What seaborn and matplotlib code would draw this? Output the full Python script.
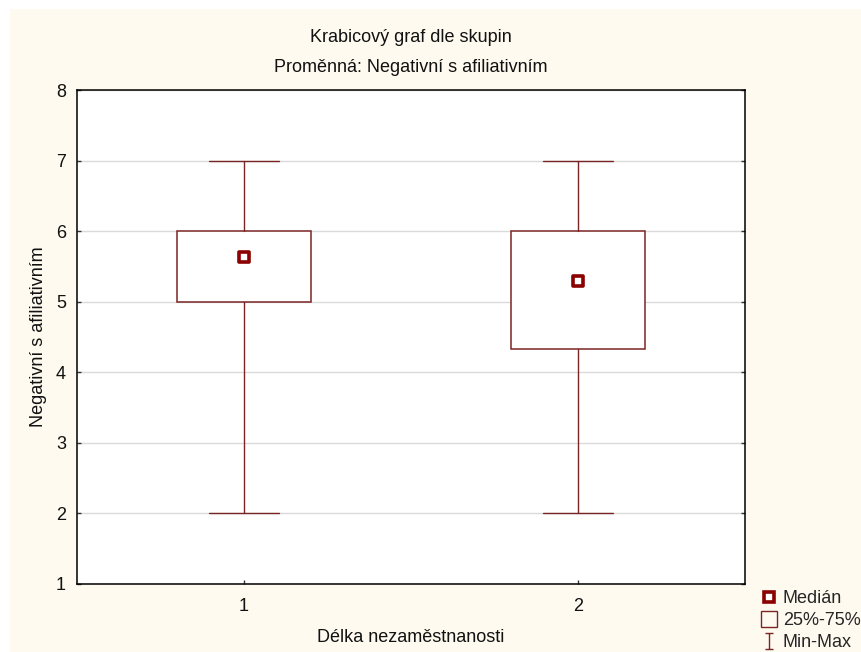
import matplotlib
matplotlib.use('Agg')
import matplotlib.pyplot as plt
import seaborn as sns
from matplotlib.path import Path
from matplotlib.lines import Line2D
from matplotlib.patches import Rectangle

# values
groups = ['1', '2']
positions = [1, 2]
q1 = [5.0, 4.33]
q3 = [6.0, 6.0]
medians = [5.63, 5.29]
mins = [2.0, 2.0]
maxs = [7.0, 7.0]

y_ticks = [1, 2, 3, 4, 5, 6, 7, 8]

title_1 = 'Krabicový graf dle skupin'
title_2 = 'Proměnná: Negativní s afiliativním'
x_label = 'Délka nezaměstnanosti'
y_label = 'Negativní s afiliativním'

box_col = '#7a2424'
mark_col = '#8b0000'
bg_col = '#fefaef'
txt_col = '#111111'
fs = 13

sns.set_theme(style='white')
plt.rcParams['font.family'] = ['Liberation Sans', 'DejaVu Sans']

fig = plt.figure(figsize=(8.61, 6.52), dpi=100)
fig.patch.set_facecolor('white')
fig.patches.append(Rectangle((10 / 861, 0), 1, 1 - 9 / 652, transform=fig.transFigure,
                             facecolor=bg_col, edgecolor='none', zorder=-10))

ax = fig.add_axes([77 / 861, 1 - 584 / 652, (745 - 77) / 861, (584 - 90) / 652])
ax.set_facecolor('white')

stats = []
for g, lo, a, m, b, hi in zip(groups, mins, q1, medians, q3, maxs):
    stats.append({'label': g, 'whislo': lo, 'q1': a, 'med': m, 'q3': b, 'whishi': hi})

ax.bxp(stats, positions=positions, widths=0.4, capwidths=0.21, showfliers=False,
       patch_artist=True,
       boxprops=dict(facecolor='white', edgecolor=box_col, linewidth=1.1),
       whiskerprops=dict(color=box_col, linewidth=1.0),
       capprops=dict(color=box_col, linewidth=1.0),
       medianprops=dict(linewidth=0), zorder=3)

sns.scatterplot(x=positions, y=medians, ax=ax, marker='s', s=55,
                facecolor='white', edgecolor=mark_col, linewidth=2.6, zorder=5)

ax.set_xlim(0.5, 2.5)
ax.set_ylim(1, 8)
ax.set_yticks(y_ticks)
ax.set_xticks(positions)
ax.set_xticklabels(groups)
ax.yaxis.grid(True, color='#dadada', linewidth=1.0, zorder=0)
ax.set_axisbelow(True)
ax.tick_params(axis='both', direction='in', length=3, width=1, color='#333333',
               labelsize=fs, labelcolor=txt_col)
ax.tick_params(axis='y', right=True, left=True, pad=8)
ax.tick_params(axis='x', bottom=True, pad=10)
for s in ax.spines.values():
    s.set_color('black')
    s.set_linewidth(1.1)
    s.set_visible(True)

ax.set_xlabel('')
ax.set_ylabel(y_label, fontsize=fs, color=txt_col, labelpad=6)
fig.text(411 / 861, 1 - 637 / 652, x_label, ha='center', va='center', fontsize=fs, color=txt_col)

fig.text(411 / 861, 1 - 38 / 652, title_1, ha='center', va='center', fontsize=fs, color=txt_col)
fig.text(411 / 861, 1 - 67 / 652, title_2, ha='center', va='center', fontsize=fs, color=txt_col)

# legend with Statistica-like symbols
ibeam = Path([(-0.5, 1), (0.5, 1), (0, 1), (0, -1), (-0.5, -1), (0.5, -1)],
             [Path.MOVETO, Path.LINETO, Path.MOVETO, Path.LINETO, Path.MOVETO, Path.LINETO])
handles = [
    Line2D([], [], linestyle='none', marker='s', markersize=7, markerfacecolor='white',
           markeredgecolor=mark_col, markeredgewidth=2.6),
    Line2D([], [], linestyle='none', marker='s', markersize=11, markerfacecolor='none',
           markeredgecolor=box_col, markeredgewidth=1.0),
    Line2D([], [], linestyle='none', marker=ibeam, markersize=11, markerfacecolor='none',
           markeredgecolor=box_col, markeredgewidth=1.0),
]
fig.legend(handles, ['Medián', '25%-75%', 'Min-Max'], loc='upper left',
           bbox_to_anchor=(762 / 861, 1 - 590 / 652), frameon=False, fontsize=fs,
           handlelength=0.8, handletextpad=0.35, labelspacing=0.28, borderpad=0,
           borderaxespad=0)

fig.savefig('out.png', dpi=100, facecolor=fig.get_facecolor())
